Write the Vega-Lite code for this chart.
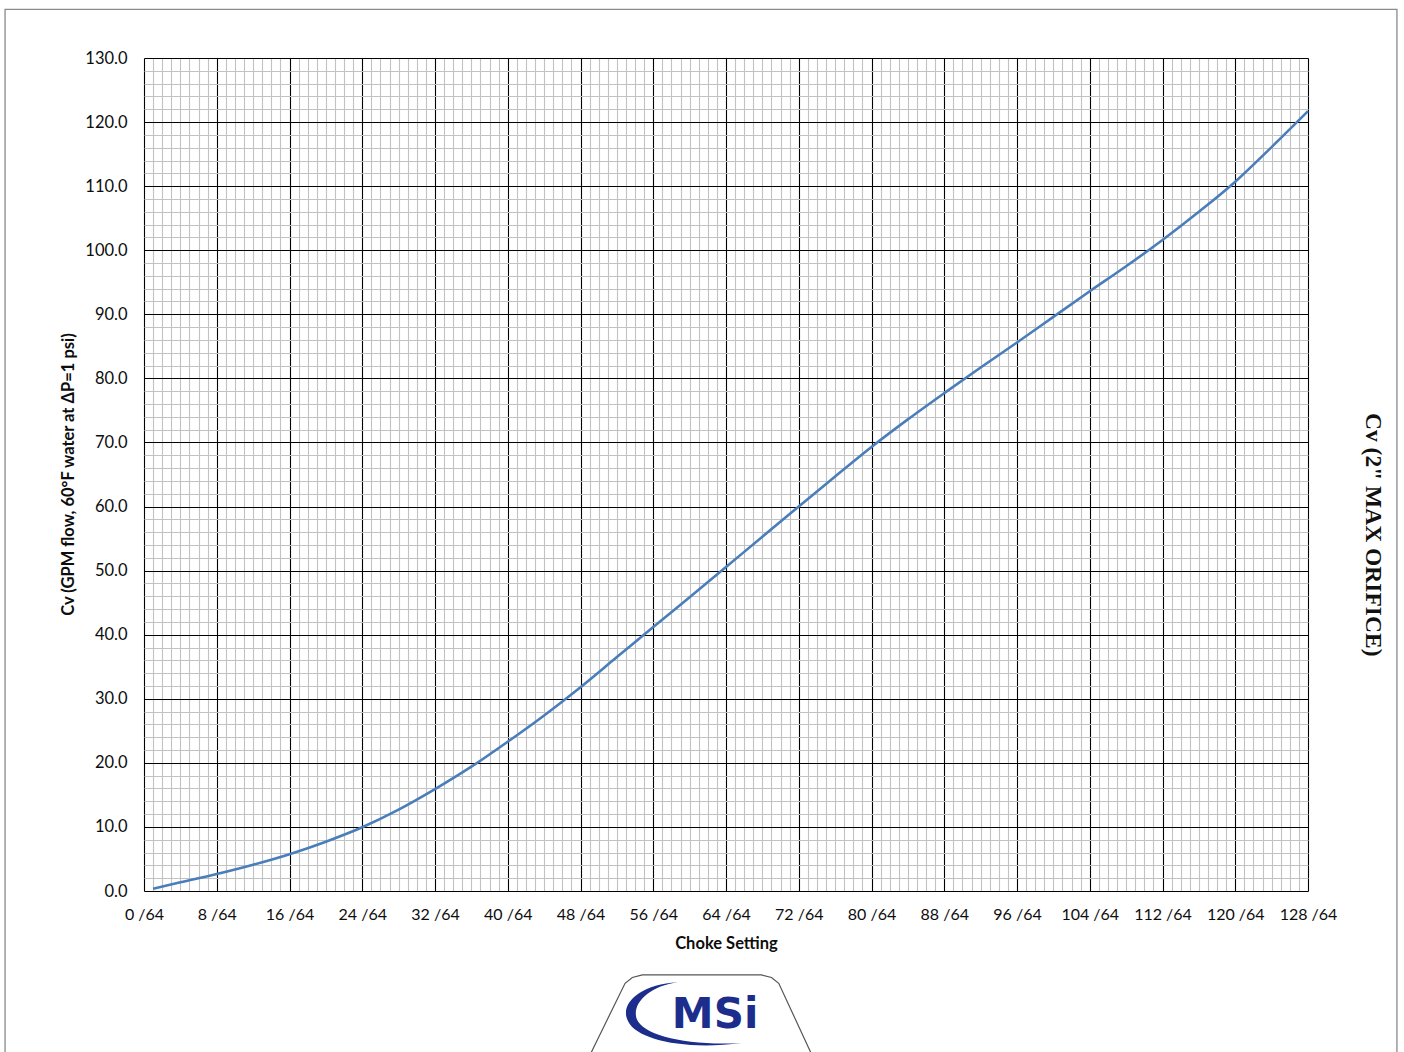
{
  "$schema": "https://vega.github.io/schema/vega-lite/v6.json",
  "autosize": {"type": "none"},
  "width": 1164,
  "height": 833,
  "padding": {"left": 144, "top": 58, "right": 96, "bottom": 161},
  "background": "white",
  "config": {"view": {"stroke": null}},
  "layer": [
    {
      "data": {"values": [
        {"choke": 1, "cv": 0.35},
        {"choke": 4, "cv": 1.35},
        {"choke": 8, "cv": 2.65},
        {"choke": 12, "cv": 4.1},
        {"choke": 16, "cv": 5.75},
        {"choke": 20, "cv": 7.7},
        {"choke": 24, "cv": 9.95},
        {"choke": 28, "cv": 12.7},
        {"choke": 32, "cv": 15.9},
        {"choke": 36, "cv": 19.4},
        {"choke": 40, "cv": 23.3},
        {"choke": 44, "cv": 27.4},
        {"choke": 48, "cv": 31.8},
        {"choke": 52, "cv": 36.5},
        {"choke": 56, "cv": 41.2},
        {"choke": 60, "cv": 45.85},
        {"choke": 64, "cv": 50.55},
        {"choke": 68, "cv": 55.3},
        {"choke": 72, "cv": 60.0},
        {"choke": 76, "cv": 64.7},
        {"choke": 80, "cv": 69.3},
        {"choke": 84, "cv": 73.6},
        {"choke": 88, "cv": 77.7},
        {"choke": 92, "cv": 81.7},
        {"choke": 96, "cv": 85.6},
        {"choke": 100, "cv": 89.6},
        {"choke": 104, "cv": 93.6},
        {"choke": 108, "cv": 97.5},
        {"choke": 112, "cv": 101.6},
        {"choke": 116, "cv": 106.0},
        {"choke": 120, "cv": 110.7},
        {"choke": 124, "cv": 116.1},
        {"choke": 128, "cv": 121.7}
      ]},
      "mark": {"type": "line", "color": "#4a7ebb", "strokeWidth": 2.6, "interpolate": "monotone"},
      "encoding": {
        "x": {
          "field": "choke", "type": "quantitative", "title": "Choke Setting",
          "scale": {"domain": [0, 128], "nice": false, "zero": false},
          "axis": {
            "values": [0,1,2,3,4,5,6,7,8,9,10,11,12,13,14,15,16,17,18,19,20,21,22,23,24,25,26,27,28,29,30,31,32,33,34,35,36,37,38,39,40,41,42,43,44,45,46,47,48,49,50,51,52,53,54,55,56,57,58,59,60,61,62,63,64,65,66,67,68,69,70,71,72,73,74,75,76,77,78,79,80,81,82,83,84,85,86,87,88,89,90,91,92,93,94,95,96,97,98,99,100,101,102,103,104,105,106,107,108,109,110,111,112,113,114,115,116,117,118,119,120,121,122,123,124,125,126,127,128],
            "tickCount": 300,
            "labelExpr": "datum.value % 8 === 0 ? datum.value + ' /64' : ''",
            "labelOverlap": false,
            "labelFlush": false,
            "labelFont": "Lato",
            "labelFontSize": 16,
            "labelColor": "#0d0d0d",
            "labelPadding": 15,
            "ticks": false,
            "domain": false,
            "grid": true,
            "gridColor": {"condition": {"test": "datum.value % 8 === 0", "value": "#000000"}, "value": "#c2c2c2"},
            "gridOpacity": 1,
            "gridWidth": 1.1,
            "titleFont": "Lato",
            "titleFontSize": 16.5,
            "titleFontWeight": "bold",
            "titleColor": "#0d0d0d",
            "titleBaseline": "middle",
            "titleY": 52
          }
        },
        "y": {
          "field": "cv", "type": "quantitative", "title": "Cv (GPM flow, 60°F water at ΔP=1 psi)",
          "scale": {"domain": [0, 130], "nice": false, "zero": false},
          "axis": {
            "values": [0,2,4,6,8,10,12,14,16,18,20,22,24,26,28,30,32,34,36,38,40,42,44,46,48,50,52,54,56,58,60,62,64,66,68,70,72,74,76,78,80,82,84,86,88,90,92,94,96,98,100,102,104,106,108,110,112,114,116,118,120,122,124,126,128,130],
            "tickCount": 300,
            "labelExpr": "datum.value % 10 === 0 ? format(datum.value, '.1f') : ''",
            "labelOverlap": false,
            "labelFlush": false,
            "labelFont": "Lato",
            "labelFontSize": 16.5,
            "labelColor": "#0d0d0d",
            "labelPadding": 17,
            "ticks": false,
            "domain": false,
            "grid": true,
            "gridColor": {"condition": {"test": "datum.value % 10 === 0", "value": "#000000"}, "value": "#c2c2c2"},
            "gridOpacity": 1,
            "gridWidth": 1.1,
            "titleFont": "Lato",
            "titleFontSize": 16.5,
            "titleFontWeight": "bold",
            "titleColor": "#0d0d0d",
            "titleAngle": -90,
            "titleBaseline": "middle",
            "titleAlign": "center",
            "titleX": -76,
            "titleY": 416
          }
        }
      }
    },
    {
      "data": {"values": [{"label": "Cv (2\" MAX ORIFICE)"}]},
      "mark": {"type": "text", "angle": 90, "font": "Liberation Serif", "fontWeight": "bold", "fontSize": 23.5, "color": "#111111", "align": "center", "baseline": "middle"},
      "encoding": {
        "x": {"datum": 135.15, "type": "quantitative", "title": "Choke Setting"},
        "y": {"datum": 55.6, "type": "quantitative", "title": "Cv (GPM flow, 60°F water at ΔP=1 psi)"},
        "text": {"field": "label"}
      }
    },
    {
      "data": {"values": [{"frame": "page"}]},
      "mark": {"type": "rect", "fill": "transparent", "stroke": "#8a8a8a", "strokeWidth": 1.3},
      "encoding": {
        "x": {"datum": -15.28, "type": "quantitative", "title": "Choke Setting"},
        "x2": {"datum": 137.78},
        "y": {"datum": 137.6, "type": "quantitative", "title": "Cv (GPM flow, 60°F water at ΔP=1 psi)"},
        "y2": {"datum": -28}
      }
    },
    {
      "data": {"values": [
        {"px": 49.04, "py": -25.6},
        {"px": 52.9, "py": -14.4},
        {"px": 53.7, "py": -13.5},
        {"px": 54.8, "py": -13.1},
        {"px": 67.9, "py": -13.1},
        {"px": 69.0, "py": -13.5},
        {"px": 69.8, "py": -14.4},
        {"px": 73.45, "py": -25.6}
      ]},
      "mark": {"type": "line", "color": "#555555", "strokeWidth": 1.2},
      "encoding": {
        "x": {"field": "px", "type": "quantitative", "title": "Choke Setting"},
        "y": {"field": "py", "type": "quantitative", "title": "Cv (GPM flow, 60°F water at ΔP=1 psi)"}
      }
    },
    {
      "data": {"values": [{"logo": "swoosh"}]},
      "mark": {"type": "point", "filled": true, "color": "#1c2d8c", "opacity": 1, "size": 22500,
        "shape": "M-0.16,-0.41 C-0.7,-0.38 -0.95,-0.1 -0.82,0.12 C-0.7,0.35 -0.1,0.5 0.69,0.40 C-0.05,0.44 -0.62,0.3 -0.71,0.08 C-0.78,-0.12 -0.55,-0.36 -0.16,-0.41 Z"},
      "encoding": {
        "x": {"datum": 60.04, "type": "quantitative", "title": "Choke Setting"},
        "y": {"datum": -19.05, "type": "quantitative", "title": "Cv (GPM flow, 60°F water at ΔP=1 psi)"}
      }
    },
    {
      "data": {"values": [{"logo": "MSi"}]},
      "mark": {"type": "text", "font": "DejaVu Sans", "fontWeight": "bold", "fontSize": 42, "color": "#1c2d8c", "align": "center", "baseline": "middle"},
      "encoding": {
        "x": {"datum": 62.8, "type": "quantitative", "title": "Choke Setting"},
        "y": {"datum": -19.4, "type": "quantitative", "title": "Cv (GPM flow, 60°F water at ΔP=1 psi)"},
        "text": {"field": "logo"}
      }
    }
  ]
}
